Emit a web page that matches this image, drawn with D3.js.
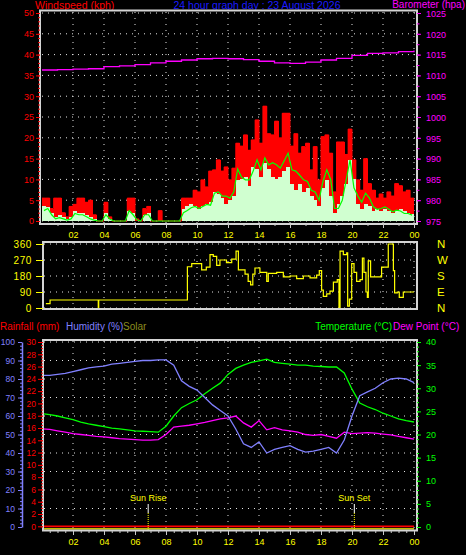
<!DOCTYPE html>
<html><head><meta charset="utf-8">
<script src="https://cdn.jsdelivr.net/npm/d3@7"></script>
<style>body{margin:0;background:#000}svg{display:block}</style>
</head><body><svg id="c" width="466" height="555"></svg>
<script>
// ---------------- DATA ----------------
const hourTicks = [2,4,6,8,10,12,14,16,18,20,22,24];
const hourLabels = ["02","04","06","08","10","12","14","16","18","20","22","00"];
const speedTicks = [0,5,10,15,20,25,30,35,40,45,50];
const baroTicks = [975,980,985,990,995,1000,1005,1010,1015,1020,1025];

// wind speed, 15-minute slots (96)
const gust = [
 5.5,5.5,3,5.5, 5.5,2,1,3.5,
 4,5.5,5.5,4.5, 5,1.5,0,0,
 4.5,1,0,0, 0,0,5.5,5.5,
 0.5,0,3,3.5, 0,0,2.5,0,
 0,0,0,0, 5.5,5.5,5.5,7.4,
 7,9.9,8.2,12, 12.3,14.7,12,13,
 9.9,12.7,18.7,18, 20.7,17,19.5,24.3,
 18.7,27.6,21,20.7, 24,20,25.9,25.9,
 18,21,16.3,17.9, 18.7,12.3,17.9,9.9,
 20.3,20.7,16.3,7, 19,19,16,22.1,
 14.7,9.9,7.4,15, 9,7.4,5.5,6.5,
 5.5,7,6,9, 8.5,7,7.4,5.5];
const avgSpeed = [
 3.7,3.4,2,1, 1.5,1,0.5,1,
 2.5,2,2,1.5, 1,0.5,0,0,
 2,0.5,0,0, 0,0,2.5,2,
 0,0,1.5,2, 0,0,0,0,
 0,0,0,0, 3,3.5,4,3.5,
 3,3.5,4,4.5, 7,6.5,5.5,4,
 5,6,9.9,10, 10.5,8.5,13,12.5,
 10.5,14,12.5,10.5, 10,10.5,12,13,
 9,7.5,9,7, 8,6,5,3.5,
 8,9.9,6,2, 4,6,9,14.7,
 10,4,3,4, 3.5,2.5,3,2.5,
 3,2.5,2,2.5, 3,2.5,2,1.8];
const avgLine = [
 2.5,3,1.5,0.5, 0.8,0.5,0.2,0.5,
 1.8,1.5,1.5,1, 0.5,0.2,0,0,
 1.5,0.5,0,0, 0,0,2.5,1.5,
 0.3,0,1.5,1.5, 0,0,0,0,
 0,0,0,0, 2,2.5,3.2,3.5,
 3,3.5,4,3.8, 6.7,7,6,6,
 5.5,7,12.5,10.5, 9.9,9.9,12,14.7,
 12.3,15.2,13.5,14, 13.5,12.7,14.5,16.3,
 12.3,12,11,9.9, 9.5,7.4,7,5,
 9.5,12.3,10,3, 3,5,9.9,14.7,
 8,6,4.5,6.7, 5.5,3.4,2.8,3,
 3.4,2.8,2.2,2.6, 2.4,1.8,1.8,1.4];

// barometer, hourly
const baroTimes = [0,1,2,3,4,5,6,7,8,9,10,11,12,13,14,15,16,17,18,19,20,21,22,23,24];
const baro = [1011.3,1011.4,1011.5,1011.6,1012.1,1012.3,1012.6,1013.0,1013.4,1013.7,1014.0,1014.1,
 1014.0,1013.8,1013.4,1013.0,1012.9,1013.2,1013.7,1014.1,1014.8,1015.3,1015.4,1015.7,1016.0];

// wind direction
const dirTicks = [0,90,180,270,360];
const compass = ["N","E","S","W","N"];
const dirTimes = [0.25,0.52,3.63,3.66,9.38,9.66,10.2,10.3,10.6,10.84,11.05,11.27,11.48,11.9,12.24,12.52,12.67,13.1,13.3,13.46,13.6,13.74,
 14.06,14.5,14.6,15.14,15.57,16.0,16.43,16.86,17.29,17.72,17.89,18.04,18.15,18.37,18.58,18.8,19.05,19.16,19.23,19.44,19.66,19.72,19.83,
 19.98,20.13,20.3,20.52,20.67,20.77,20.9,20.99,21.05,21.2,21.37,21.91,22.34,22.67,22.75,22.92,23.05,23.31,24];
const dirValues = [25,45,0,45,232,250,250,215,230,300,290,240,270,255,275,320,215,190,150,130,190,225,
 200,150,195,200,175,180,165,180,170,185,210,100,65,80,95,145,160,0,320,300,310,10,50,
 250,200,150,160,280,200,90,60,265,175,175,230,360,210,85,90,60,90,90];

// bottom chart, half-hourly
const halfHours = d3.range(0, 24.001, 0.5);
const humidity = [82,82,82.5,83,84,85,86,86.5,87,88,88.5,89,89.5,90,90,90.3,90.3,87.5,79,76,74,70,66,63,60,53,45,43,46,40,
 42,43,44,42,40.5,41,42,43,40,47,60,71,73,75,78,80,80.5,80,78];
const temperature = [24.5,24.3,24,23.6,23.2,22.7,22.3,22,21.7,21.4,21.2,21,20.8,20.7,20.6,20.5,21.8,24,25.8,26.7,27.5,28.8,30,31.1,
 33,34.3,35,35.6,35.9,36.3,35.6,35.4,35.2,35,35,34.8,34.7,34.6,34.6,33.3,29.8,26.8,26,25.4,24.6,24,23.4,23,22.7];
const dewPoint = [21.2,21.1,20.8,20.5,20.2,20,19.8,19.6,19.5,19.3,19.1,19,18.9,18.8,18.8,18.9,20,21.6,21.8,22,22.3,22.6,23,23.4,
 23.6,24,22.5,21.6,23,21,21.5,21,20.8,20.5,20,19.8,20,19.6,19.2,20.5,20.2,20.3,20.4,20.3,20.1,19.9,19.6,19.3,19];
const rainfall = halfHours.map(() => 0);
const solar = halfHours.map(() => 0);
const humTicks = [0,10,20,30,40,50,60,70,80,90,100];
const rainTicks = [0,2,4,6,8,10,12,14,16,18,20,22,24,26,28,30];
const tempTicks = [0,5,10,15,20,25,30,35,40];
const sunRise = 6.85, sunSet = 20.15;

// ---------------- DRAWING ----------------
const FONT = '"Liberation Sans", Arial, sans-serif';
const RED = "#ff0000", MAG = "#ff00ff", YEL = "#ffff00", GRN = "#00ff00", HUM = "#8080ff", PALE = "#d0ffd0";
const GRID = "#e6e6e6", FRAME = "#d4d4d4", TICK = "#c8c8c8";
const svg = d3.select("#c");
svg.append("rect").attr("width", 466).attr("height", 555).attr("fill", "#000");

const x = d3.scaleLinear().domain([0, 24]).range([42, 414]);

function styleAxis(g, color, size, extra) {
  g.attr("font-family", FONT).attr("font-size", size);
  g.select(".domain").remove();
  g.selectAll("line").attr("stroke", color);
  g.selectAll("text").attr("fill", color);
  if (extra) g.selectAll("text").attr("letter-spacing", extra);
}
function hGrid(g, vals, scale, x1, x2) {
  g.selectAll(null).data(vals).join("line")
    .attr("x1", x1).attr("x2", x2).attr("y1", d => scale(d)).attr("y2", d => scale(d))
    .attr("stroke", GRID).attr("stroke-dasharray", "1,5");
}
function vGrid(g, vals, y1, y2) {
  g.selectAll(null).data(vals).join("line")
    .attr("x1", d => x(d)).attr("x2", d => x(d)).attr("y1", y1).attr("y2", y2)
    .attr("stroke", GRID).attr("stroke-dasharray", "1,5");
}

// ===== Titles =====
svg.append("text").attr("x", 35).attr("y", 9).attr("fill", RED).attr("font-size", 10.5).attr("font-family", FONT).text("Windspeed (kph)");
svg.append("text").attr("x", 257).attr("y", 9).attr("text-anchor", "middle").attr("fill", "#1a1aff").attr("font-size", 10.5).attr("font-family", FONT).text("24 hour graph day : 23 August 2026");
svg.append("text").attr("x", 465).attr("y", 8).attr("text-anchor", "end").attr("fill", MAG).attr("font-size", 10).attr("font-family", FONT).text("Barometer (hpa)");

// ===== Top chart =====
const ySpd = d3.scaleLinear().domain([0, 50]).range([221, 13]);
const yBaro = d3.scaleLinear().domain([975, 1025]).range([221, 13]);
const topG = svg.append("g");
hGrid(topG.append("g"), speedTicks, ySpd, 42, 416);
vGrid(topG.append("g"), hourTicks, 12, 223);

const slot = 0.25;
const bw = x(slot) - x(0);
topG.append("g").attr("shape-rendering", "crispEdges").selectAll("rect").data(gust).join("rect")
  .attr("x", (d, i) => x(i * slot)).attr("width", bw + 0.3)
  .attr("y", d => ySpd(d)).attr("height", d => ySpd(0) - ySpd(d)).attr("fill", RED);
topG.append("path").datum(gust.concat([gust[gust.length - 1]]))
  .attr("d", d3.line().x((d, i) => x(i * slot)).y(d => ySpd(d)).curve(d3.curveStepAfter))
  .attr("fill", "none").attr("stroke", RED).attr("stroke-width", 1);
topG.append("g").attr("shape-rendering", "crispEdges").selectAll("rect").data(avgSpeed).join("rect")
  .attr("x", (d, i) => x(i * slot)).attr("width", bw + 0.3)
  .attr("y", d => ySpd(d)).attr("height", d => ySpd(0) - ySpd(d)).attr("fill", PALE);
topG.append("path").datum(avgLine)
  .attr("d", d3.line().x((d, i) => x(i * slot + slot / 2)).y(d => ySpd(d)))
  .attr("fill", "none").attr("stroke", GRN).attr("stroke-width", 1.2);
topG.append("path").datum(baro)
  .attr("d", d3.line().x((d, i) => x(baroTimes[i])).y(d => yBaro(d)).curve(d3.curveStepAfter))
  .attr("fill", "none").attr("stroke", MAG).attr("stroke-width", 1.3);
topG.append("rect").attr("x", 40).attr("y", 10.5).attr("width", 377).attr("height", 213.5)
  .attr("fill", "none").attr("stroke", FRAME).attr("stroke-width", 2);

// axes top
const gl = topG.append("g").attr("transform", "translate(40,0)")
  .call(d3.axisLeft(ySpd).tickValues(speedTicks).tickSize(4).tickPadding(2).tickSizeOuter(0));
styleAxis(gl, RED, 9);
const glm = topG.append("g").attr("transform", "translate(40,0)")
  .call(d3.axisLeft(ySpd).tickValues(d3.range(0, 51, 1)).tickSize(2).tickFormat(""));
styleAxis(glm, RED, 9);
const gr = topG.append("g").attr("transform", "translate(417,0)")
  .call(d3.axisRight(yBaro).tickValues(baroTicks).tickSize(4).tickPadding(5).tickFormat(d3.format("d")));
styleAxis(gr, MAG, 9);
gr.selectAll("text").attr("dy", "0.36em");
const grm = topG.append("g").attr("transform", "translate(417,0)")
  .call(d3.axisRight(yBaro).tickValues(d3.range(975, 1026, 2.5)).tickSize(2.5).tickFormat(""));
styleAxis(grm, MAG, 9);
const gb = topG.append("g").attr("transform", "translate(0,224)")
  .call(d3.axisBottom(x).tickValues(hourTicks).tickSize(4).tickPadding(4).tickFormat((d, i) => hourLabels[i]));
styleAxis(gb, YEL, 9);
gb.selectAll("line").attr("stroke", TICK);
const gbm = topG.append("g").attr("transform", "translate(0,224)")
  .call(d3.axisBottom(x).tickValues(d3.range(1, 24, 1)).tickSize(2).tickFormat(""));
styleAxis(gbm, TICK, 9);

// ===== Middle chart: wind direction =====
const yDir = d3.scaleLinear().domain([0, 360]).range([308, 244]);
const mid = svg.append("g");
hGrid(mid.append("g"), dirTicks, yDir, 44, 416);
vGrid(mid.append("g"), hourTicks, 243, 308);
mid.append("path").datum(dirValues)
  .attr("d", d3.line().x((d, i) => x(dirTimes[i])).y(d => yDir(d)).curve(d3.curveStepAfter))
  .attr("fill", "none").attr("stroke", YEL).attr("stroke-width", 1.2);
mid.append("rect").attr("x", 43).attr("y", 242).attr("width", 374).attr("height", 67)
  .attr("fill", "none").attr("stroke", FRAME).attr("stroke-width", 2);
const ml = mid.append("g").attr("transform", "translate(43,0)")
  .call(d3.axisLeft(yDir).tickValues(dirTicks).tickSize(7).tickPadding(4));
styleAxis(ml, YEL, 10, 0.6);
mid.append("g").selectAll("text").data(dirTicks).join("text")
  .attr("x", 437).attr("y", d => yDir(d)).attr("dy", "0.38em")
  .attr("fill", YEL).attr("font-size", 11.5).attr("font-family", FONT)
  .text((d, i) => compass[i]);

// ===== Bottom chart headers =====
const hdr = svg.append("g").attr("font-family", FONT).attr("font-size", 10);
hdr.append("text").attr("x", 0).attr("y", 330).attr("fill", RED).text("Rainfall (mm)");
hdr.append("text").attr("x", 66).attr("y", 330).attr("fill", HUM).text("Humidity (%)");
hdr.append("text").attr("x", 123).attr("y", 330).attr("fill", "#8c8c1e").text("Solar");
hdr.append("text").attr("x", 392).attr("y", 330).attr("text-anchor", "end").attr("fill", GRN).text("Temperature (°C)");
hdr.append("text").attr("x", 393).attr("y", 330).attr("fill", MAG).text("Dew Point (°C)");

// ===== Bottom chart =====
const yHum = d3.scaleLinear().domain([0, 100]).range([527, 342]);
const yRain = d3.scaleLinear().domain([0, 30]).range([526.3, 342]);
const yTemp = d3.scaleLinear().domain([0, 40]).range([527, 342]);
const ySolar = d3.scaleLinear().domain([0, 1000]).range([528.8, 342]);
const bot = svg.append("g");
hGrid(bot.append("g"), humTicks.slice(1), yHum, 44, 416);
vGrid(bot.append("g"), hourTicks, 341, 530);

const lineOf = (scale) => d3.line().x((d, i) => x(halfHours[i])).y(d => scale(d));
bot.append("path").datum(solar).attr("d", lineOf(ySolar)).attr("fill", "none").attr("stroke", YEL).attr("stroke-width", 1.3);
bot.append("path").datum(rainfall).attr("d", lineOf(yRain)).attr("fill", "none").attr("stroke", RED).attr("stroke-width", 1.7);
bot.append("path").datum(dewPoint).attr("d", lineOf(yTemp)).attr("fill", "none").attr("stroke", MAG).attr("stroke-width", 1.3);
bot.append("path").datum(temperature).attr("d", lineOf(yTemp)).attr("fill", "none").attr("stroke", GRN).attr("stroke-width", 1.3);
bot.append("path").datum(humidity).attr("d", lineOf(yHum)).attr("fill", "none").attr("stroke", HUM).attr("stroke-width", 1.3);

// sun rise / set
[[sunRise, "Sun Rise"], [sunSet, "Sun Set"]].forEach(([t, lab]) => {
  bot.append("text").attr("x", x(t)).attr("y", 501).attr("text-anchor", "middle")
    .attr("fill", YEL).attr("font-size", 9).attr("font-family", FONT).text(lab);
  bot.append("line").attr("x1", x(t)).attr("x2", x(t)).attr("y1", 504).attr("y2", 513)
    .attr("stroke", "#ffffff").attr("stroke-width", 1);
  bot.append("line").attr("x1", x(t)).attr("x2", x(t)).attr("y1", 513).attr("y2", 530)
    .attr("stroke", YEL).attr("stroke-width", 1).attr("stroke-dasharray", "1,1");
});

bot.append("rect").attr("x", 43).attr("y", 340).attr("width", 374).attr("height", 190.5)
  .attr("fill", "none").attr("stroke", FRAME).attr("stroke-width", 2);

// bottom axes
const ha = bot.append("g").attr("transform", "translate(22,0)")
  .call(d3.axisLeft(yHum).tickValues(humTicks).tickSize(4).tickPadding(3).tickSizeOuter(0));
ha.attr("font-family", FONT).attr("font-size", 8.5);
ha.select(".domain").attr("stroke", HUM).attr("stroke-width", 1.5);
ha.selectAll("line").attr("stroke", HUM);
ha.selectAll("text").attr("fill", HUM);
const ham = bot.append("g").attr("transform", "translate(22,0)")
  .call(d3.axisLeft(yHum).tickValues(d3.range(0, 101, 2)).tickSize(2).tickFormat(""));
styleAxis(ham, HUM, 8.5);
const ra = bot.append("g").attr("transform", "translate(43,0)")
  .call(d3.axisLeft(yRain).tickValues(rainTicks).tickSize(5).tickPadding(2));
styleAxis(ra, RED, 8.5);
const ram = bot.append("g").attr("transform", "translate(43,0)")
  .call(d3.axisLeft(yRain).tickValues(d3.range(0, 30.01, 0.5)).tickSize(2).tickFormat(""));
styleAxis(ram, RED, 8.5);
const ta = bot.append("g").attr("transform", "translate(417,0)")
  .call(d3.axisRight(yTemp).tickValues(tempTicks).tickSize(4).tickPadding(5));
styleAxis(ta, GRN, 9);
const tam = bot.append("g").attr("transform", "translate(417,0)")
  .call(d3.axisRight(yTemp).tickValues(d3.range(0, 41, 1)).tickSize(2).tickFormat(""));
styleAxis(tam, GRN, 9);
const ba = bot.append("g").attr("transform", "translate(0,531)")
  .call(d3.axisBottom(x).tickValues(hourTicks).tickSize(4).tickPadding(4).tickFormat((d, i) => hourLabels[i]));
styleAxis(ba, YEL, 9);
ba.selectAll("line").attr("stroke", TICK);
const bam = bot.append("g").attr("transform", "translate(0,531)")
  .call(d3.axisBottom(x).tickValues(d3.range(0.5, 24, 0.5)).tickSize(2).tickFormat(""));
styleAxis(bam, TICK, 9);
</script>
</body></html>
